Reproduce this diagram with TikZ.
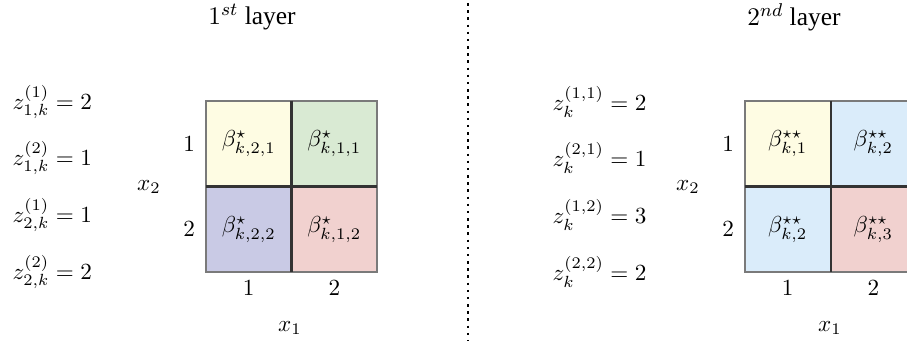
\documentclass[tikz,border=0pt]{standalone}
\usepackage{fontspec}
\setmainfont{Liberation Serif}
\usetikzlibrary{positioning}
\definecolor{cyellow}{HTML}{FEFCE3}
\definecolor{cgreen}{HTML}{D9EAD3}
\definecolor{cpurple}{HTML}{C9CAE5}
\definecolor{cpink}{HTML}{F1D1CF}
\definecolor{cblue}{HTML}{DAECFA}
\definecolor{cedge}{HTML}{7A7A7A}
\definecolor{cdark}{HTML}{333333}
\tikzset{
  every picture/.style={line width=0.6pt},
  cell/.style={draw=cedge, fill=#1, minimum size=1.3cm, inner sep=0pt, outer sep=0pt},
  cell/.default=white,
  divider/.style={draw=cdark, line width=0.9pt},
  title/.style={font=\fontsize{11}{13}\selectfont},
  zlabel/.style={anchor=west, inner sep=0pt},
  tick/.style={inner sep=0pt},
}
\begin{document}
\begin{tikzpicture}[x=0.0152cm, y=-0.0152cm, node distance=0pt]
  \useasboundingbox (0,0) rectangle (907,344);
  \clip (0,0) rectangle (907,344);

  % left panel
  \node[title] (title1) at (252,17) {$1^{st}$ layer};
  \node[zlabel] (za) at (12,102) {$z^{(1)}_{1,k} = 2$};
  \node[zlabel] (zb) at (12,158) {$z^{(2)}_{1,k} = 1$};
  \node[zlabel] (zc) at (12,215) {$z^{(1)}_{2,k} = 1$};
  \node[zlabel] (zd) at (12,272) {$z^{(2)}_{2,k} = 2$};

  \node[cell=cyellow] (a11) at (248.75,143.75) {$\beta^{\star}_{k,2,1}$};
  \node[cell=cgreen, right=of a11] (a12) {$\beta^{\star}_{k,1,1}$};
  \node[cell=cpurple, below=of a11] (a21) {$\beta^{\star}_{k,2,2}$};
  \node[cell=cpink, right=of a21] (a22) {$\beta^{\star}_{k,1,2}$};
  \draw[divider] (a11.north east) -- (a21.south east);
  \draw[divider] (a11.south west) -- (a12.south east);

  \node[tick, left=4.5pt of a11] (ar1) {$1$};
  \node[tick, left=4.5pt of a21] (ar2) {$2$};
  \node[tick, below=3.5pt of a21] (ac1) {$1$};
  \node[tick, below=3.5pt of a22] (ac2) {$2$};
  \node (ax2) at (149,187) {$x_2$};
  \node (ax1) at (290,328) {$x_1$};

  % separator
  \coordinate (septop) at (468,3);
  \coordinate (sepbot) at (468,340);
  \draw[dotted, line width=1.1pt] (septop) -- (sepbot);

  % right panel
  \node[title] (title2) at (794,17) {$2^{nd}$ layer};
  \node[zlabel] (zra) at (552,102) {$z^{(1,1)}_{k} = 2$};
  \node[zlabel] (zrb) at (552,158) {$z^{(2,1)}_{k} = 1$};
  \node[zlabel] (zrc) at (552,215) {$z^{(1,2)}_{k} = 3$};
  \node[zlabel] (zrd) at (552,272) {$z^{(2,2)}_{k} = 2$};

  \node[cell=cyellow] (b11) at (787.75,143.75) {$\beta^{\star\star}_{k,1}$};
  \node[cell=cblue, right=of b11] (b12) {$\beta^{\star\star}_{k,2}$};
  \node[cell=cblue, below=of b11] (b21) {$\beta^{\star\star}_{k,2}$};
  \node[cell=cpink, right=of b21] (b22) {$\beta^{\star\star}_{k,3}$};
  \draw[divider] (b11.north east) -- (b21.south east);
  \draw[divider] (b11.south west) -- (b12.south east);

  \node[tick, left=4.5pt of b11] (br1) {$1$};
  \node[tick, left=4.5pt of b21] (br2) {$2$};
  \node[tick, below=3.5pt of b21] (bc1) {$1$};
  \node[tick, below=3.5pt of b22] (bc2) {$2$};
  \node (bx2) at (688,187) {$x_2$};
  \node (bx1) at (830,328) {$x_1$};
\end{tikzpicture}
\end{document}
